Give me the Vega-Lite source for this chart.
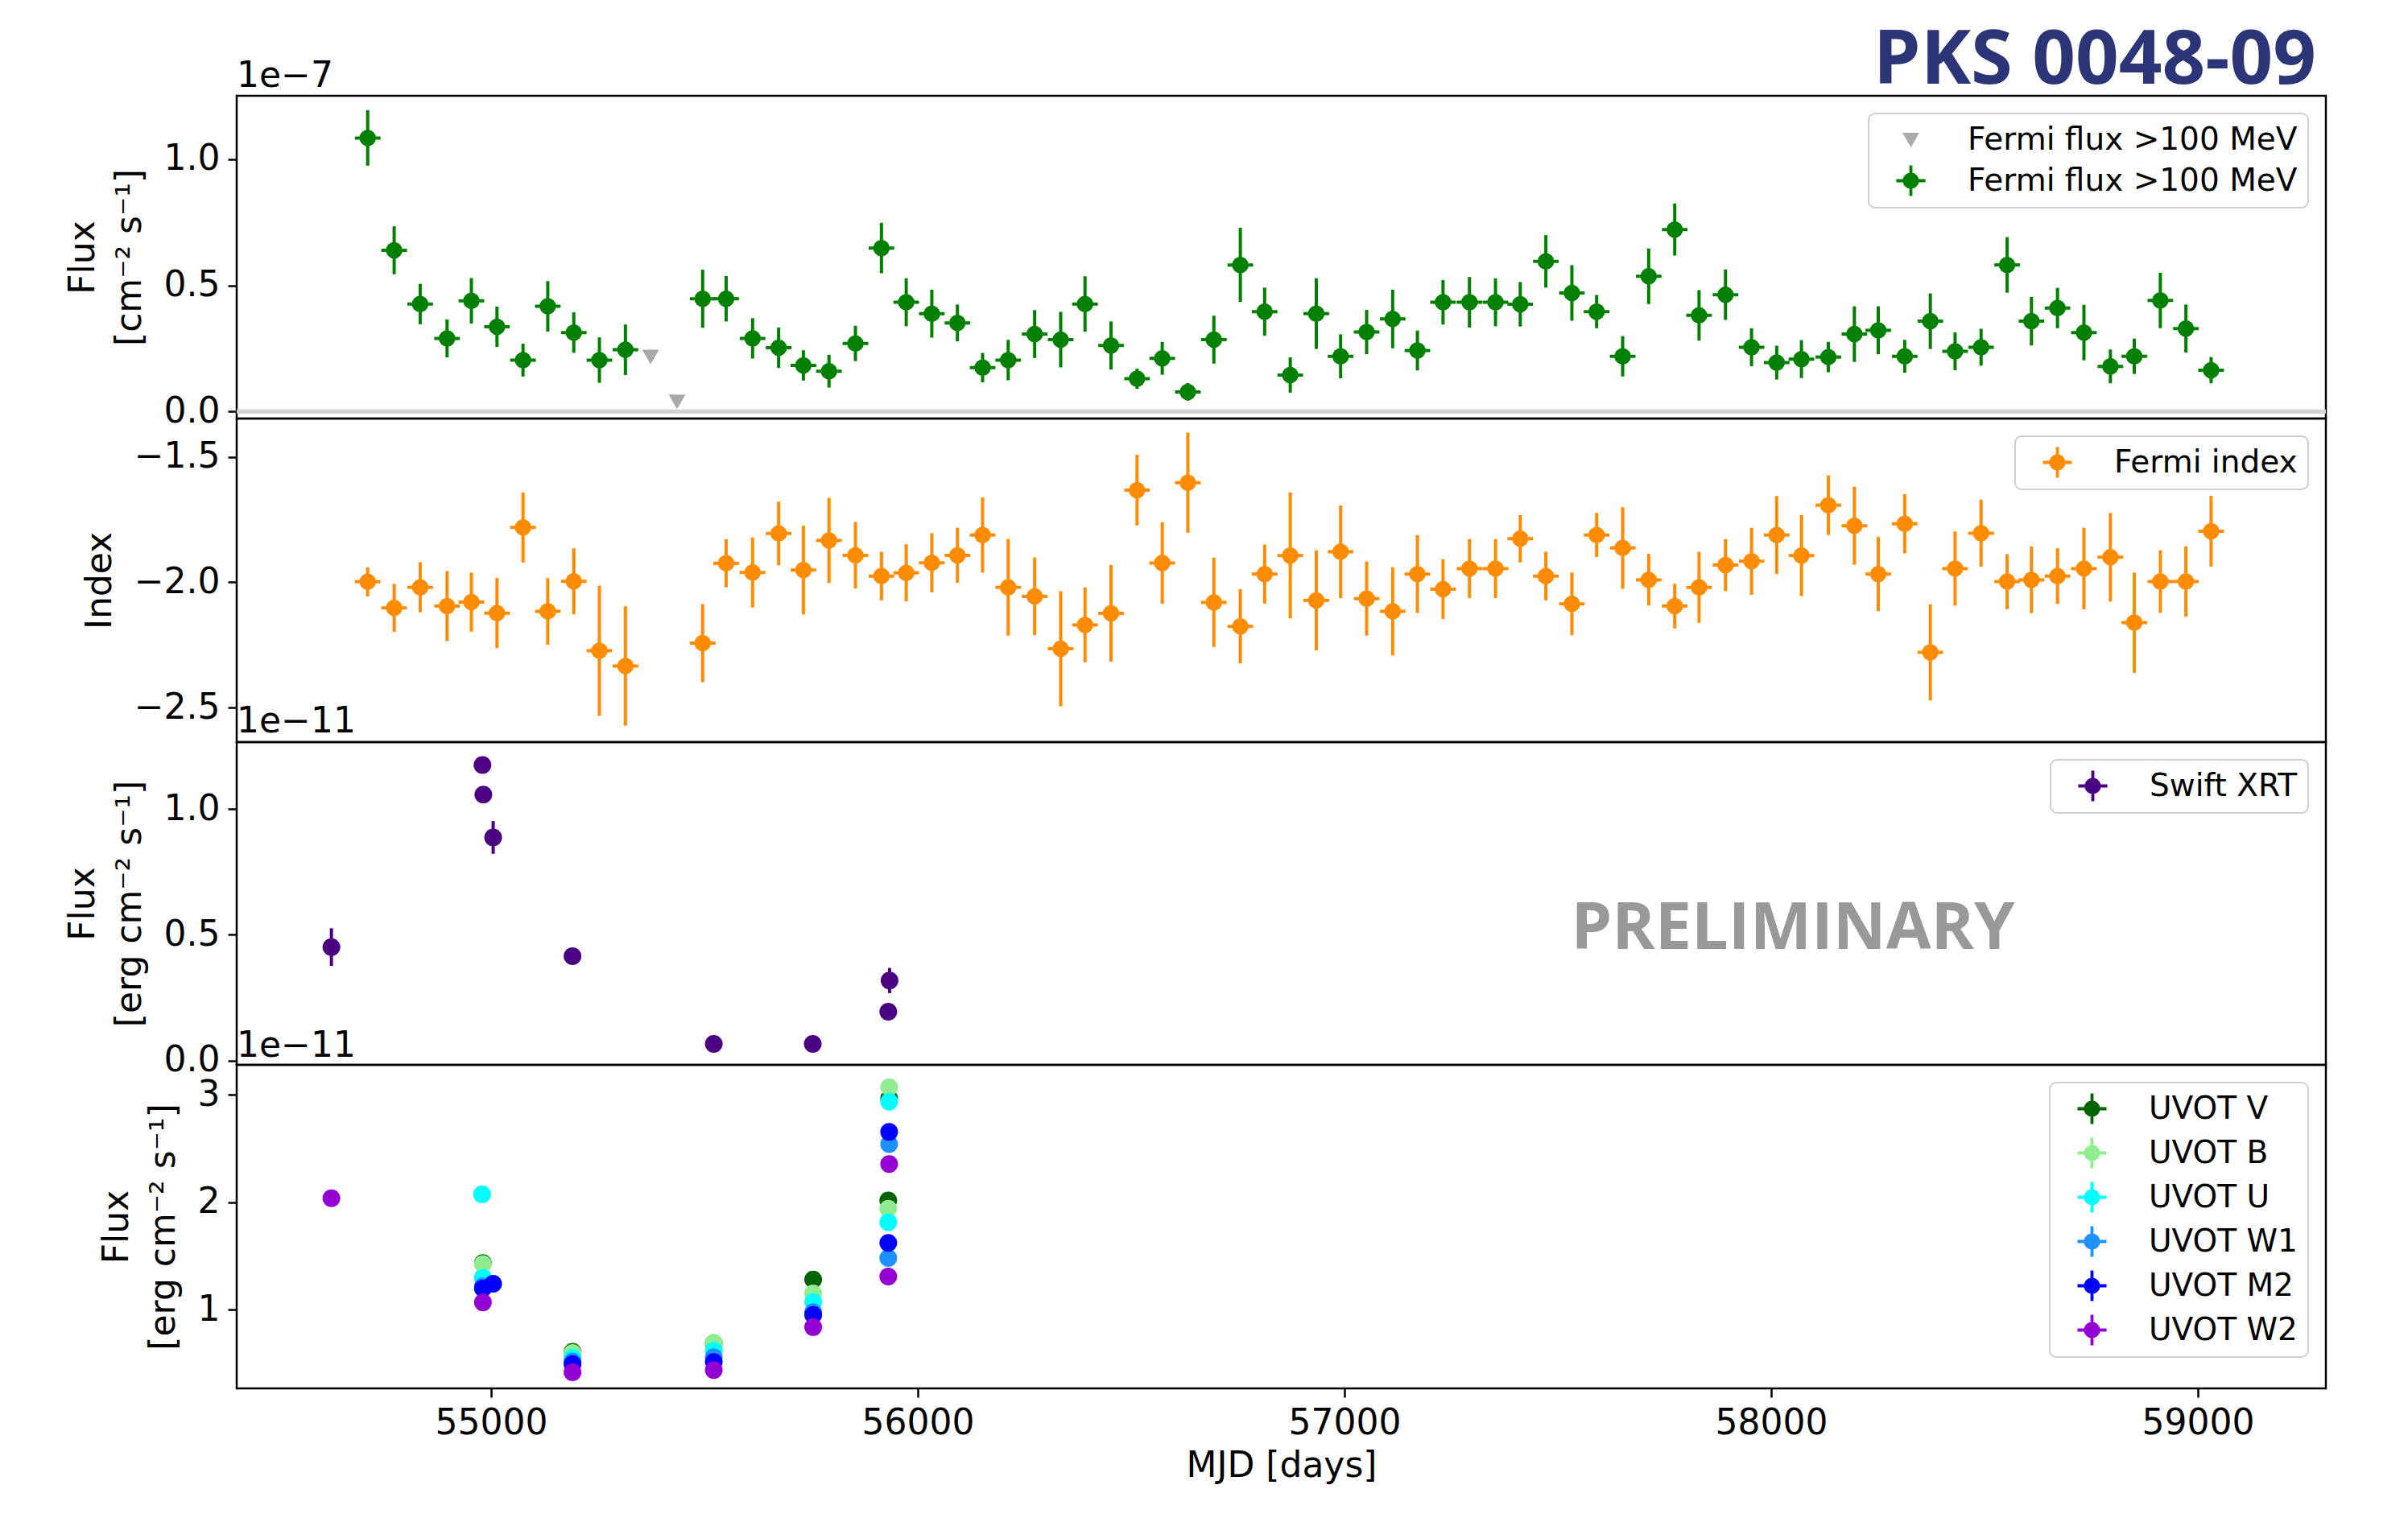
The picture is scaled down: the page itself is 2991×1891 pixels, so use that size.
{
  "$schema": "https://vega.github.io/schema/vega-lite/v6.json",
  "background": "white",
  "padding": {"left": 79, "top": 28, "right": 60, "bottom": 30},
  "title": {
    "text": "PKS 0048-09",
    "anchor": "end",
    "frame": "group",
    "font": "Open Sans",
    "fontSize": 94,
    "fontWeight": "bold",
    "color": "#2c3577",
    "baseline": "alphabetic",
    "offset": 19,
    "dx": -12,
    "dy": 145
  },
  "datasets": {
    "fermi": [
      {"mjd": 54711, "flux": 1.084e-7, "flux_err": 1.1e-8, "index": -1.998, "index_err": 0.058, "mjd_err": 30},
      {"mjd": 54773, "flux": 6.39e-8, "flux_err": 9.5e-9, "index": -2.102, "index_err": 0.096, "mjd_err": 30},
      {"mjd": 54834, "flux": 4.26e-8, "flux_err": 8e-9, "index": -2.02, "index_err": 0.1, "mjd_err": 30},
      {"mjd": 54897, "flux": 2.9e-8, "flux_err": 7.5e-9, "index": -2.095, "index_err": 0.14, "mjd_err": 30},
      {"mjd": 54954, "flux": 4.39e-8, "flux_err": 9e-9, "index": -2.079, "index_err": 0.118, "mjd_err": 30},
      {"mjd": 55014, "flux": 3.36e-8, "flux_err": 8e-9, "index": -2.123, "index_err": 0.14, "mjd_err": 30},
      {"mjd": 55075, "flux": 2.04e-8, "flux_err": 6.5e-9, "index": -1.781, "index_err": 0.14, "mjd_err": 30},
      {"mjd": 55133, "flux": 4.17e-8, "flux_err": 1e-8, "index": -2.116, "index_err": 0.133, "mjd_err": 30},
      {"mjd": 55194, "flux": 3.13e-8, "flux_err": 8e-9, "index": -1.996, "index_err": 0.132, "mjd_err": 30},
      {"mjd": 55254, "flux": 2.04e-8, "flux_err": 9e-9, "index": -2.273, "index_err": 0.26, "mjd_err": 30},
      {"mjd": 55315, "flux": 2.45e-8, "flux_err": 1e-8, "index": -2.334, "index_err": 0.238, "mjd_err": 30},
      {"mjd": 55496, "flux": 4.47e-8, "flux_err": 1.15e-8, "index": -2.243, "index_err": 0.156, "mjd_err": 30},
      {"mjd": 55551, "flux": 4.47e-8, "flux_err": 9e-9, "index": -1.924, "index_err": 0.096, "mjd_err": 30},
      {"mjd": 55613, "flux": 2.9e-8, "flux_err": 8e-9, "index": -1.961, "index_err": 0.14, "mjd_err": 30},
      {"mjd": 55674, "flux": 2.53e-8, "flux_err": 8e-9, "index": -1.805, "index_err": 0.127, "mjd_err": 30},
      {"mjd": 55732, "flux": 1.83e-8, "flux_err": 6e-9, "index": -1.951, "index_err": 0.177, "mjd_err": 30},
      {"mjd": 55792, "flux": 1.6e-8, "flux_err": 6.5e-9, "index": -1.833, "index_err": 0.17, "mjd_err": 30},
      {"mjd": 55854, "flux": 2.7e-8, "flux_err": 7e-9, "index": -1.892, "index_err": 0.133, "mjd_err": 30},
      {"mjd": 55915, "flux": 6.48e-8, "flux_err": 1e-8, "index": -1.975, "index_err": 0.097, "mjd_err": 30},
      {"mjd": 55973, "flux": 4.33e-8, "flux_err": 9.5e-9, "index": -1.962, "index_err": 0.114, "mjd_err": 30},
      {"mjd": 56033, "flux": 3.88e-8, "flux_err": 9.5e-9, "index": -1.922, "index_err": 0.118, "mjd_err": 30},
      {"mjd": 56093, "flux": 3.51e-8, "flux_err": 7.3e-9, "index": -1.892, "index_err": 0.11, "mjd_err": 30},
      {"mjd": 56152, "flux": 1.74e-8, "flux_err": 5.8e-9, "index": -1.811, "index_err": 0.15, "mjd_err": 30},
      {"mjd": 56212, "flux": 2.04e-8, "flux_err": 8e-9, "index": -2.02, "index_err": 0.193, "mjd_err": 30},
      {"mjd": 56274, "flux": 3.07e-8, "flux_err": 9.5e-9, "index": -2.056, "index_err": 0.155, "mjd_err": 30},
      {"mjd": 56335, "flux": 2.85e-8, "flux_err": 1.1e-8, "index": -2.265, "index_err": 0.23, "mjd_err": 30},
      {"mjd": 56392, "flux": 4.26e-8, "flux_err": 1.1e-8, "index": -2.17, "index_err": 0.149, "mjd_err": 30},
      {"mjd": 56453, "flux": 2.62e-8, "flux_err": 9.5e-9, "index": -2.124, "index_err": 0.193, "mjd_err": 30},
      {"mjd": 56514, "flux": 1.3e-8, "flux_err": 4e-9, "index": -1.632, "index_err": 0.141, "mjd_err": 30},
      {"mjd": 56573, "flux": 2.11e-8, "flux_err": 6.5e-9, "index": -1.923, "index_err": 0.163, "mjd_err": 30},
      {"mjd": 56633, "flux": 7.8e-9, "flux_err": 3.5e-9, "index": -1.602, "index_err": 0.2, "mjd_err": 30},
      {"mjd": 56694, "flux": 2.85e-8, "flux_err": 9.5e-9, "index": -2.08, "index_err": 0.178, "mjd_err": 30},
      {"mjd": 56756, "flux": 5.81e-8, "flux_err": 1.47e-8, "index": -2.176, "index_err": 0.148, "mjd_err": 30},
      {"mjd": 56813, "flux": 3.96e-8, "flux_err": 9.5e-9, "index": -1.967, "index_err": 0.118, "mjd_err": 30},
      {"mjd": 56873, "flux": 1.45e-8, "flux_err": 7e-9, "index": -1.893, "index_err": 0.252, "mjd_err": 30},
      {"mjd": 56934, "flux": 3.88e-8, "flux_err": 1.4e-8, "index": -2.072, "index_err": 0.2, "mjd_err": 30},
      {"mjd": 56991, "flux": 2.19e-8, "flux_err": 8.7e-9, "index": -1.878, "index_err": 0.185, "mjd_err": 30},
      {"mjd": 57052, "flux": 3.15e-8, "flux_err": 8.8e-9, "index": -2.065, "index_err": 0.148, "mjd_err": 30},
      {"mjd": 57113, "flux": 3.67e-8, "flux_err": 1.16e-8, "index": -2.116, "index_err": 0.176, "mjd_err": 30},
      {"mjd": 57171, "flux": 2.42e-8, "flux_err": 7.9e-9, "index": -1.967, "index_err": 0.155, "mjd_err": 30},
      {"mjd": 57231, "flux": 4.33e-8, "flux_err": 8.8e-9, "index": -2.027, "index_err": 0.119, "mjd_err": 30},
      {"mjd": 57293, "flux": 4.33e-8, "flux_err": 1e-8, "index": -1.945, "index_err": 0.118, "mjd_err": 30},
      {"mjd": 57354, "flux": 4.33e-8, "flux_err": 9.5e-9, "index": -1.945, "index_err": 0.118, "mjd_err": 30},
      {"mjd": 57412, "flux": 4.25e-8, "flux_err": 8.8e-9, "index": -1.826, "index_err": 0.095, "mjd_err": 30},
      {"mjd": 57472, "flux": 5.95e-8, "flux_err": 1.04e-8, "index": -1.975, "index_err": 0.097, "mjd_err": 30},
      {"mjd": 57533, "flux": 4.7e-8, "flux_err": 1.1e-8, "index": -2.086, "index_err": 0.125, "mjd_err": 30},
      {"mjd": 57591, "flux": 3.96e-8, "flux_err": 6.6e-9, "index": -1.811, "index_err": 0.088, "mjd_err": 30},
      {"mjd": 57652, "flux": 2.19e-8, "flux_err": 8e-9, "index": -1.863, "index_err": 0.163, "mjd_err": 30},
      {"mjd": 57713, "flux": 5.36e-8, "flux_err": 1.1e-8, "index": -1.99, "index_err": 0.103, "mjd_err": 30},
      {"mjd": 57774, "flux": 7.21e-8, "flux_err": 1.03e-8, "index": -2.095, "index_err": 0.089, "mjd_err": 30},
      {"mjd": 57831, "flux": 3.81e-8, "flux_err": 1e-8, "index": -2.02, "index_err": 0.142, "mjd_err": 30},
      {"mjd": 57893, "flux": 4.63e-8, "flux_err": 1e-8, "index": -1.931, "index_err": 0.104, "mjd_err": 30},
      {"mjd": 57954, "flux": 2.55e-8, "flux_err": 7.5e-9, "index": -1.916, "index_err": 0.134, "mjd_err": 30},
      {"mjd": 58013, "flux": 1.94e-8, "flux_err": 6.7e-9, "index": -1.811, "index_err": 0.156, "mjd_err": 30},
      {"mjd": 58071, "flux": 2.08e-8, "flux_err": 7.5e-9, "index": -1.893, "index_err": 0.162, "mjd_err": 30},
      {"mjd": 58134, "flux": 2.16e-8, "flux_err": 6e-9, "index": -1.692, "index_err": 0.119, "mjd_err": 30},
      {"mjd": 58195, "flux": 3.07e-8, "flux_err": 1.1e-8, "index": -1.774, "index_err": 0.156, "mjd_err": 30},
      {"mjd": 58251, "flux": 3.22e-8, "flux_err": 9.5e-9, "index": -1.967, "index_err": 0.148, "mjd_err": 30},
      {"mjd": 58313, "flux": 2.19e-8, "flux_err": 6.5e-9, "index": -1.766, "index_err": 0.118, "mjd_err": 30},
      {"mjd": 58373, "flux": 3.58e-8, "flux_err": 1.1e-8, "index": -2.28, "index_err": 0.192, "mjd_err": 30},
      {"mjd": 58431, "flux": 2.39e-8, "flux_err": 7.5e-9, "index": -1.945, "index_err": 0.148, "mjd_err": 30},
      {"mjd": 58492, "flux": 2.55e-8, "flux_err": 7.3e-9, "index": -1.804, "index_err": 0.134, "mjd_err": 30},
      {"mjd": 58553, "flux": 5.81e-8, "flux_err": 1.1e-8, "index": -1.997, "index_err": 0.11, "mjd_err": 30},
      {"mjd": 58610, "flux": 3.58e-8, "flux_err": 9.6e-9, "index": -1.99, "index_err": 0.133, "mjd_err": 30},
      {"mjd": 58671, "flux": 4.1e-8, "flux_err": 8e-9, "index": -1.975, "index_err": 0.111, "mjd_err": 30},
      {"mjd": 58733, "flux": 3.13e-8, "flux_err": 1.1e-8, "index": -1.945, "index_err": 0.163, "mjd_err": 30},
      {"mjd": 58795, "flux": 1.79e-8, "flux_err": 6.7e-9, "index": -1.9, "index_err": 0.177, "mjd_err": 30},
      {"mjd": 58851, "flux": 2.19e-8, "flux_err": 7e-9, "index": -2.161, "index_err": 0.2, "mjd_err": 30},
      {"mjd": 58912, "flux": 4.4e-8, "flux_err": 1.1e-8, "index": -1.997, "index_err": 0.125, "mjd_err": 30},
      {"mjd": 58972, "flux": 3.29e-8, "flux_err": 9.5e-9, "index": -1.997, "index_err": 0.14, "mjd_err": 30},
      {"mjd": 59031, "flux": 1.64e-8, "flux_err": 5.2e-9, "index": -1.796, "index_err": 0.141, "mjd_err": 30}
    ],
    "fermi_ul": [
      {"mjd": 55374, "flux": 2.18e-8, "kind": "ul"},
      {"mjd": 55436, "flux": 4e-9, "kind": "ul"}
    ],
    "xrt": [
      {"mjd": 54626, "flux": 4.51e-12, "flux_err": 7.5e-13},
      {"mjd": 54980, "flux": 1.175e-11, "flux_err": 2e-13},
      {"mjd": 54982, "flux": 1.057e-11, "flux_err": 2.5e-13},
      {"mjd": 55005, "flux": 8.87e-12, "flux_err": 6.5e-13},
      {"mjd": 55191, "flux": 4.15e-12, "flux_err": 2e-13},
      {"mjd": 55522, "flux": 6.6e-13, "flux_err": 1e-13},
      {"mjd": 55754, "flux": 6.6e-13, "flux_err": 1e-13},
      {"mjd": 55934, "flux": 3.18e-12, "flux_err": 5e-13},
      {"mjd": 55931, "flux": 1.94e-12, "flux_err": 1.5e-13}
    ],
    "uvot": [
      {"mjd": 54981, "band": "UVOT V", "flux": 1.436e-11, "flux_err": 3e-13},
      {"mjd": 55191, "band": "UVOT V", "flux": 6.1e-12, "flux_err": 2e-13},
      {"mjd": 55522, "band": "UVOT V", "flux": 6.9e-12, "flux_err": 2e-13},
      {"mjd": 55755, "band": "UVOT V", "flux": 1.283e-11, "flux_err": 3e-13},
      {"mjd": 55933, "band": "UVOT V", "flux": 2.967e-11, "flux_err": 4e-13},
      {"mjd": 55931, "band": "UVOT V", "flux": 2.017e-11, "flux_err": 4e-13},
      {"mjd": 54981, "band": "UVOT B", "flux": 1.426e-11, "flux_err": 2e-13},
      {"mjd": 55191, "band": "UVOT B", "flux": 6e-12, "flux_err": 2e-13},
      {"mjd": 55522, "band": "UVOT B", "flux": 6.95e-12, "flux_err": 2e-13},
      {"mjd": 55755, "band": "UVOT B", "flux": 1.153e-11, "flux_err": 2e-13},
      {"mjd": 55933, "band": "UVOT B", "flux": 3.072e-11, "flux_err": 3e-13},
      {"mjd": 55931, "band": "UVOT B", "flux": 1.941e-11, "flux_err": 3e-13},
      {"mjd": 54979, "band": "UVOT U", "flux": 2.075e-11, "flux_err": 2e-13},
      {"mjd": 54981, "band": "UVOT U", "flux": 1.3e-11, "flux_err": 2e-13},
      {"mjd": 55191, "band": "UVOT U", "flux": 5.55e-12, "flux_err": 2e-13},
      {"mjd": 55522, "band": "UVOT U", "flux": 6.2e-12, "flux_err": 2e-13},
      {"mjd": 55755, "band": "UVOT U", "flux": 1.073e-11, "flux_err": 2e-13},
      {"mjd": 55933, "band": "UVOT U", "flux": 2.937e-11, "flux_err": 3e-13},
      {"mjd": 55931, "band": "UVOT U", "flux": 1.816e-11, "flux_err": 3e-13},
      {"mjd": 54981, "band": "UVOT W1", "flux": 1.22e-11, "flux_err": 2e-13},
      {"mjd": 55191, "band": "UVOT W1", "flux": 5.2e-12, "flux_err": 2e-13},
      {"mjd": 55522, "band": "UVOT W1", "flux": 5.6e-12, "flux_err": 2e-13},
      {"mjd": 55755, "band": "UVOT W1", "flux": 9.8e-12, "flux_err": 2e-13},
      {"mjd": 55933, "band": "UVOT W1", "flux": 2.542e-11, "flux_err": 3e-13},
      {"mjd": 55931, "band": "UVOT W1", "flux": 1.483e-11, "flux_err": 3e-13},
      {"mjd": 54981, "band": "UVOT M2", "flux": 1.2e-11, "flux_err": 3e-13},
      {"mjd": 55005, "band": "UVOT M2", "flux": 1.243e-11, "flux_err": 3e-13},
      {"mjd": 55191, "band": "UVOT M2", "flux": 4.96e-12, "flux_err": 2e-13},
      {"mjd": 55522, "band": "UVOT M2", "flux": 5.15e-12, "flux_err": 2e-13},
      {"mjd": 55755, "band": "UVOT M2", "flux": 9.53e-12, "flux_err": 2e-13},
      {"mjd": 55933, "band": "UVOT M2", "flux": 2.655e-11, "flux_err": 5e-13},
      {"mjd": 55931, "band": "UVOT M2", "flux": 1.623e-11, "flux_err": 3e-13},
      {"mjd": 54626, "band": "UVOT W2", "flux": 2.039e-11, "flux_err": 2e-13},
      {"mjd": 54981, "band": "UVOT W2", "flux": 1.07e-11, "flux_err": 2e-13},
      {"mjd": 55191, "band": "UVOT W2", "flux": 4.2e-12, "flux_err": 2e-13},
      {"mjd": 55522, "band": "UVOT W2", "flux": 4.4e-12, "flux_err": 2e-13},
      {"mjd": 55755, "band": "UVOT W2", "flux": 8.4e-12, "flux_err": 2e-13},
      {"mjd": 55933, "band": "UVOT W2", "flux": 2.357e-11, "flux_err": 3e-13},
      {"mjd": 55931, "band": "UVOT W2", "flux": 1.311e-11, "flux_err": 3e-13}
    ]
  },
  "vconcat": [
    {
      "width": 2595,
      "height": 401,
      "layer": [
        {
          "data": {"values": [{}]},
          "mark": {"type": "rule", "color": "#d3d3d3", "strokeWidth": 5},
          "encoding": {
            "y": {"datum": 0, "type": "quantitative", "scale": {"domain": [-2.75e-9, 1.251e-7], "nice": false, "zero": false}, "axis": {"title": ["Flux", "[cm⁻² s⁻¹]"], "values": [0, 5e-8, 1e-7], "labelExpr": "format(datum.value*1e7,'.1f')"}}
          }
        },
        {
          "data": {"name": "fermi"},
          "mark": {"type": "errorbar", "thickness": 4, "color": "#008000"},
          "encoding": {
            "x": {"field": "mjd", "type": "quantitative", "scale": {"domain": [54404, 59300], "nice": false, "zero": false}, "axis": null},
            "y": {"field": "flux", "type": "quantitative", "scale": {"domain": [-2.75e-9, 1.251e-7], "nice": false, "zero": false}, "axis": {"title": ["Flux", "[cm⁻² s⁻¹]"], "values": [0, 5e-8, 1e-7], "labelExpr": "format(datum.value*1e7,'.1f')"}},
            "yError": {"field": "flux_err"}
          }
        },
        {
          "data": {"name": "fermi"},
          "mark": {"type": "errorbar", "thickness": 4, "color": "#008000"},
          "encoding": {
            "x": {"field": "mjd", "type": "quantitative", "scale": {"domain": [54404, 59300], "nice": false, "zero": false}, "axis": null},
            "xError": {"field": "mjd_err"},
            "y": {"field": "flux", "type": "quantitative", "scale": {"domain": [-2.75e-9, 1.251e-7], "nice": false, "zero": false}, "axis": {"title": ["Flux", "[cm⁻² s⁻¹]"], "values": [0, 5e-8, 1e-7], "labelExpr": "format(datum.value*1e7,'.1f')"}}
          }
        },
        {
          "data": {"name": "fermi"},
          "mark": {"type": "point", "shape": "circle", "filled": true, "opacity": 1, "size": 420, "color": "#008000", "strokeWidth": 0},
          "encoding": {
            "x": {"field": "mjd", "type": "quantitative", "scale": {"domain": [54404, 59300], "nice": false, "zero": false}, "axis": null},
            "y": {"field": "flux", "type": "quantitative", "scale": {"domain": [-2.75e-9, 1.251e-7], "nice": false, "zero": false}, "axis": {"title": ["Flux", "[cm⁻² s⁻¹]"], "values": [0, 5e-8, 1e-7], "labelExpr": "format(datum.value*1e7,'.1f')"}}
          }
        },
        {
          "data": {"name": "fermi_ul"},
          "mark": {"type": "point", "filled": true, "opacity": 1, "size": 1444, "strokeWidth": 0},
          "encoding": {
            "x": {"field": "mjd", "type": "quantitative", "scale": {"domain": [54404, 59300], "nice": false, "zero": false}, "axis": null},
            "y": {"field": "flux", "type": "quantitative", "scale": {"domain": [-2.75e-9, 1.251e-7], "nice": false, "zero": false}, "axis": {"title": ["Flux", "[cm⁻² s⁻¹]"], "values": [0, 5e-8, 1e-7], "labelExpr": "format(datum.value*1e7,'.1f')"}},
            "color": {
              "field": "kind", "type": "nominal",
              "scale": {"domain": ["ul", "det"], "range": ["#a9a9a9", "#008000"]},
              "legend": {"title": null, "labelExpr": "'Fermi flux >100 MeV'", "rowPadding": 11}
            },
            "shape": {
              "field": "kind", "type": "nominal",
              "scale": {"domain": ["ul", "det"], "range": ["M-0.55,-0.45L0.55,-0.45L0,0.5Z", "M-0.1,-1L0.1,-1L0.1,1L-0.1,1Z M-0.95,-0.1L0.95,-0.1L0.95,0.1L-0.95,0.1Z M0.53,0A0.53,0.53,0,1,1,-0.53,0A0.53,0.53,0,1,1,0.53,0Z"]},
              "legend": {"title": null, "labelExpr": "'Fermi flux >100 MeV'", "rowPadding": 11}
            }
          }
        },
        {
          "data": {"values": [{}]},
          "mark": {"type": "text", "text": "1e−7", "align": "left", "baseline": "alphabetic", "dy": -11, "font": "DejaVu Sans", "fontSize": 44, "color": "black"},
          "encoding": {
            "x": {"datum": 54404, "type": "quantitative", "scale": {"domain": [54404, 59300], "nice": false, "zero": false}, "axis": null},
            "y": {"datum": 1.251e-7, "type": "quantitative", "scale": {"domain": [-2.75e-9, 1.251e-7], "nice": false, "zero": false}, "axis": {"title": ["Flux", "[cm⁻² s⁻¹]"], "values": [0, 5e-8, 1e-7], "labelExpr": "format(datum.value*1e7,'.1f')"}}
          }
        }
      ]
    },
    {
      "width": 2595,
      "height": 402,
      "data": {"name": "fermi"},
      "layer": [
        {
          "mark": {"type": "errorbar", "thickness": 4, "color": "#ff8c00"},
          "encoding": {
            "x": {"field": "mjd", "type": "quantitative", "scale": {"domain": [54404, 59300], "nice": false, "zero": false}, "axis": null},
            "y": {"field": "index", "type": "quantitative", "scale": {"domain": [-2.638, -1.346], "nice": false, "zero": false}, "axis": {"title": "Index", "values": [-2.5, -2, -1.5], "format": ".1f"}},
            "yError": {"field": "index_err"}
          }
        },
        {
          "mark": {"type": "errorbar", "thickness": 4, "color": "#ff8c00"},
          "encoding": {
            "x": {"field": "mjd", "type": "quantitative", "scale": {"domain": [54404, 59300], "nice": false, "zero": false}, "axis": null},
            "xError": {"field": "mjd_err"},
            "y": {"field": "index", "type": "quantitative", "scale": {"domain": [-2.638, -1.346], "nice": false, "zero": false}, "axis": {"title": "Index", "values": [-2.5, -2, -1.5], "format": ".1f"}}
          }
        },
        {
          "mark": {"type": "point", "shape": "circle", "filled": true, "opacity": 1, "size": 420, "strokeWidth": 0},
          "encoding": {
            "x": {"field": "mjd", "type": "quantitative", "scale": {"domain": [54404, 59300], "nice": false, "zero": false}, "axis": null},
            "y": {"field": "index", "type": "quantitative", "scale": {"domain": [-2.638, -1.346], "nice": false, "zero": false}, "axis": {"title": "Index", "values": [-2.5, -2, -1.5], "format": ".1f"}},
            "color": {
              "datum": "Fermi index", "type": "nominal",
              "scale": {"range": ["#ff8c00"]},
              "legend": {"title": null, "symbolType": "M-0.1,-1L0.1,-1L0.1,1L-0.1,1Z M-0.95,-0.1L0.95,-0.1L0.95,0.1L-0.95,0.1Z M0.53,0A0.53,0.53,0,1,1,-0.53,0A0.53,0.53,0,1,1,0.53,0Z"}
            }
          }
        }
      ]
    },
    {
      "width": 2595,
      "height": 401,
      "layer": [
        {
          "data": {"values": [{}]},
          "mark": {"type": "text", "text": "PRELIMINARY", "align": "center", "baseline": "middle", "font": "Open Sans", "fontSize": 81, "fontWeight": "bold", "color": "#999999"},
          "encoding": {
            "x": {"datum": 58051, "type": "quantitative", "scale": {"domain": [54404, 59300], "nice": false, "zero": false}, "axis": null},
            "y": {"datum": 5.22e-12, "type": "quantitative", "scale": {"domain": [-1.7e-13, 1.266e-11], "nice": false, "zero": false}, "axis": {"title": ["Flux", "[erg cm⁻² s⁻¹]"], "values": [0, 5e-12, 1e-11], "labelExpr": "format(datum.value*1e11,'.1f')"}}
          }
        },
        {
          "data": {"name": "xrt"},
          "mark": {"type": "errorbar", "thickness": 4, "color": "#4b0082"},
          "encoding": {
            "x": {"field": "mjd", "type": "quantitative", "scale": {"domain": [54404, 59300], "nice": false, "zero": false}, "axis": null},
            "y": {"field": "flux", "type": "quantitative", "scale": {"domain": [-1.7e-13, 1.266e-11], "nice": false, "zero": false}, "axis": {"title": ["Flux", "[erg cm⁻² s⁻¹]"], "values": [0, 5e-12, 1e-11], "labelExpr": "format(datum.value*1e11,'.1f')"}},
            "yError": {"field": "flux_err"}
          }
        },
        {
          "data": {"name": "xrt"},
          "mark": {"type": "point", "shape": "circle", "filled": true, "opacity": 1, "size": 484, "strokeWidth": 0},
          "encoding": {
            "x": {"field": "mjd", "type": "quantitative", "scale": {"domain": [54404, 59300], "nice": false, "zero": false}, "axis": null},
            "y": {"field": "flux", "type": "quantitative", "scale": {"domain": [-1.7e-13, 1.266e-11], "nice": false, "zero": false}, "axis": {"title": ["Flux", "[erg cm⁻² s⁻¹]"], "values": [0, 5e-12, 1e-11], "labelExpr": "format(datum.value*1e11,'.1f')"}},
            "color": {
              "datum": "Swift XRT", "type": "nominal",
              "scale": {"range": ["#4b0082"]},
              "legend": {"title": null, "symbolType": "M-0.1,-1L0.1,-1L0.1,1L-0.1,1Z M-0.95,-0.1L0.95,-0.1L0.95,0.1L-0.95,0.1Z M0.53,0A0.53,0.53,0,1,1,-0.53,0A0.53,0.53,0,1,1,0.53,0Z"}
            }
          }
        },
        {
          "data": {"values": [{}]},
          "mark": {"type": "text", "text": "1e−11", "align": "left", "baseline": "alphabetic", "dy": -12, "font": "DejaVu Sans", "fontSize": 44, "color": "black"},
          "encoding": {
            "x": {"datum": 54404, "type": "quantitative", "scale": {"domain": [54404, 59300], "nice": false, "zero": false}, "axis": null},
            "y": {"datum": 1.266e-11, "type": "quantitative", "scale": {"domain": [-1.7e-13, 1.266e-11], "nice": false, "zero": false}, "axis": {"title": ["Flux", "[erg cm⁻² s⁻¹]"], "values": [0, 5e-12, 1e-11], "labelExpr": "format(datum.value*1e11,'.1f')"}}
          }
        }
      ]
    },
    {
      "width": 2595,
      "height": 402,
      "layer": [
        {
          "data": {"name": "uvot"},
          "mark": {"type": "errorbar", "thickness": 3},
          "encoding": {
            "x": {"field": "mjd", "type": "quantitative", "scale": {"domain": [54404, 59300], "nice": false, "zero": false}, "axis": {"title": "MJD [days]", "values": [55000, 56000, 57000, 58000, 59000], "format": "d", "titlePadding": 9}},
            "y": {"field": "flux", "type": "quantitative", "scale": {"domain": [2.7e-12, 3.279e-11], "nice": false, "zero": false}, "axis": {"title": ["Flux", "[erg cm⁻² s⁻¹]"], "values": [1e-11, 2e-11, 3e-11], "labelExpr": "format(datum.value*1e11,'.0f')"}},
            "yError": {"field": "flux_err"},
            "color": {
              "field": "band", "type": "nominal",
              "scale": {"domain": ["UVOT V", "UVOT B", "UVOT U", "UVOT W1", "UVOT M2", "UVOT W2"], "range": ["#006400", "#90ee90", "#00ffff", "#1e90ff", "#0000ff", "#9400d3"]},
              "legend": {"title": null, "rowPadding": 15, "symbolType": "M-0.1,-1L0.1,-1L0.1,1L-0.1,1Z M-0.95,-0.1L0.95,-0.1L0.95,0.1L-0.95,0.1Z M0.53,0A0.53,0.53,0,1,1,-0.53,0A0.53,0.53,0,1,1,0.53,0Z"}
            }
          }
        },
        {
          "data": {"name": "uvot"},
          "mark": {"type": "point", "shape": "circle", "filled": true, "opacity": 1, "size": 484, "strokeWidth": 0},
          "encoding": {
            "x": {"field": "mjd", "type": "quantitative", "scale": {"domain": [54404, 59300], "nice": false, "zero": false}, "axis": {"title": "MJD [days]", "values": [55000, 56000, 57000, 58000, 59000], "format": "d", "titlePadding": 9}},
            "y": {"field": "flux", "type": "quantitative", "scale": {"domain": [2.7e-12, 3.279e-11], "nice": false, "zero": false}, "axis": {"title": ["Flux", "[erg cm⁻² s⁻¹]"], "values": [1e-11, 2e-11, 3e-11], "labelExpr": "format(datum.value*1e11,'.0f')"}},
            "color": {
              "field": "band", "type": "nominal",
              "scale": {"domain": ["UVOT V", "UVOT B", "UVOT U", "UVOT W1", "UVOT M2", "UVOT W2"], "range": ["#006400", "#90ee90", "#00ffff", "#1e90ff", "#0000ff", "#9400d3"]},
              "legend": {"title": null, "rowPadding": 15, "symbolType": "M-0.1,-1L0.1,-1L0.1,1L-0.1,1Z M-0.95,-0.1L0.95,-0.1L0.95,0.1L-0.95,0.1Z M0.53,0A0.53,0.53,0,1,1,-0.53,0A0.53,0.53,0,1,1,0.53,0Z"}
            }
          }
        },
        {
          "data": {"values": [{}]},
          "mark": {"type": "text", "text": "1e−11", "align": "left", "baseline": "alphabetic", "dy": -10, "font": "DejaVu Sans", "fontSize": 44, "color": "black"},
          "encoding": {
            "x": {"datum": 54404, "type": "quantitative", "scale": {"domain": [54404, 59300], "nice": false, "zero": false}, "axis": {"title": "MJD [days]", "values": [55000, 56000, 57000, 58000, 59000], "format": "d", "titlePadding": 9}},
            "y": {"datum": 3.279e-11, "type": "quantitative", "scale": {"domain": [2.7e-12, 3.279e-11], "nice": false, "zero": false}, "axis": {"title": ["Flux", "[erg cm⁻² s⁻¹]"], "values": [1e-11, 2e-11, 3e-11], "labelExpr": "format(datum.value*1e11,'.0f')"}}
          }
        }
      ]
    }
  ],
  "spacing": 0,
  "bounds": "flush",
  "resolve": {"scale": {"color": "independent", "shape": "independent"}, "legend": {"color": "independent", "shape": "independent"}},
  "config": {
    "font": "DejaVu Sans",
    "view": {"stroke": "black", "strokeWidth": 2.5},
    "axis": {
      "labelFont": "DejaVu Sans",
      "labelFontSize": 44,
      "labelColor": "black",
      "labelPadding": 10,
      "titleFont": "DejaVu Sans",
      "titleFontSize": 44,
      "titleFontWeight": "normal",
      "titleColor": "black",
      "titlePadding": 20,
      "titleLineHeight": 58,
      "tickColor": "black",
      "tickSize": 11,
      "tickWidth": 2.5,
      "domain": false,
      "grid": false
    },
    "legend": {
      "orient": "top-right",
      "offset": 22,
      "labelFont": "DejaVu Sans",
      "labelFontSize": 39,
      "labelColor": "black",
      "labelLimit": 0,
      "labelOffset": 51,
      "fillColor": "white",
      "strokeColor": "#cfcfcf",
      "strokeWidth": 2,
      "cornerRadius": 8,
      "padding": 13,
      "symbolSize": 1444,
      "symbolStrokeWidth": 0,
      "symbolOffset": 20,
      "rowPadding": 13
    }
  }
}
